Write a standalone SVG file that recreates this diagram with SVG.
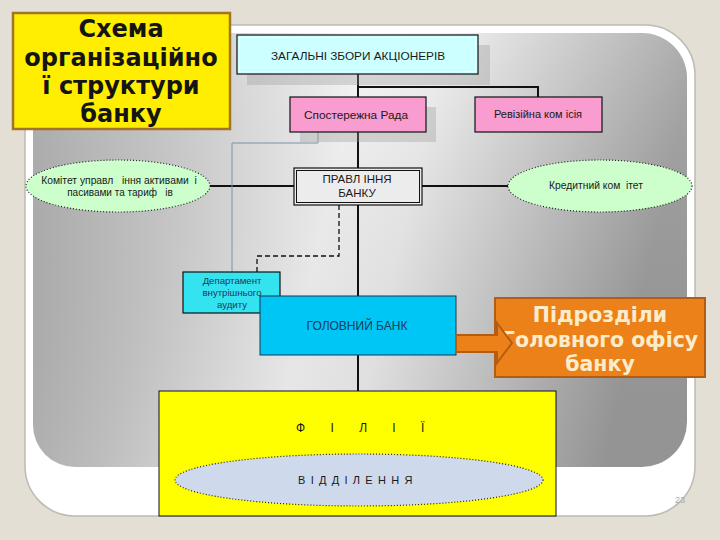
<svg xmlns="http://www.w3.org/2000/svg" width="720" height="540" viewBox="0 0 720 540">
<defs>
<linearGradient id="panelGrad" x1="0" y1="0" x2="1" y2="0.15">
<stop offset="0" stop-color="#a4a4a4"/>
<stop offset="0.25" stop-color="#c8c8c8"/>
<stop offset="0.5" stop-color="#f4f4f4"/>
<stop offset="0.62" stop-color="#ececec"/>
<stop offset="1" stop-color="#9c9c9c"/>
</linearGradient>
<linearGradient id="panelShade" x1="0" y1="0" x2="0" y2="1">
<stop offset="0" stop-color="#ffffff" stop-opacity="0.15"/>
<stop offset="1" stop-color="#000000" stop-opacity="0.05"/>
</linearGradient>
<style>
.lbl{font-family:"Liberation Sans",Arial,sans-serif;fill:#1a1a1a;text-anchor:middle;white-space:pre}
.dk{fill:#1c3a5a}
.big{font-family:"DejaVu Sans","Noto Sans",sans-serif;font-weight:bold;text-anchor:middle}
.box{stroke:#111;stroke-width:1.2}
.shadow{fill:#9a9a9a;fill-opacity:0.35}
.ell{stroke:#222;stroke-width:1.2;stroke-dasharray:1 2}
.main{stroke:#111;stroke-width:2;fill:none}
</style>
</defs>
<rect width="720" height="540" fill="#e4dfd5"/>
<path d="M25 25 H645 A50 50 0 0 1 695 75 V466 A50 50 0 0 1 645 516 H75 A50 50 0 0 1 25 466 Z" fill="#ffffff" stroke="#bdbab3" stroke-width="1.5"/>
<path d="M33 33 H642 A45 45 0 0 1 687 78 V422 A45 45 0 0 1 642 467 H75 A42 42 0 0 1 33 425 Z" fill="url(#panelGrad)"/>
<path d="M33 33 H642 A45 45 0 0 1 687 78 V422 A45 45 0 0 1 642 467 H75 A42 42 0 0 1 33 425 Z" fill="url(#panelShade)"/>

<g id="connectors">
<path class="main" d="M358 74 V391"/>
<path class="main" d="M358 87 H538 V97" stroke-width="1.5"/>
<path class="main" d="M210 186 H294 M422 186 H508" stroke-width="1.5"/>
<path d="M318 132 V143 H232 V272" fill="none" stroke="#7f92aa" stroke-width="1"/>
<path d="M339 205 V256 H257 V272" fill="none" stroke="#111" stroke-width="1.3" stroke-dasharray="5 3"/>
</g>

<g id="zagalni">
<rect class="shadow" x="247" y="45" width="243" height="40"/>
<rect class="box" x="237" y="35" width="241" height="39" fill="#ccffff"/>
<rect x="239.5" y="37.5" width="236" height="34" fill="none" stroke="#fff" stroke-width="1"/>
<text class="lbl" x="358" y="60" font-size="11.8">ЗАГАЛЬНІ ЗБОРИ АКЦІОНЕРІВ</text>
</g>

<g id="sposterezhna">
<rect class="shadow" x="300" y="107" width="136" height="35"/>
<rect class="box" x="290" y="97" width="136" height="35" fill="#f99ccf"/>
<text class="lbl" x="356" y="119" font-size="11.8">Спостережна Рада</text>
</g>

<g id="reviziyna">
<rect class="box" x="475" y="97" width="127" height="35" fill="#f99ccf"/>
<text class="lbl" x="538" y="118" font-size="11">Ревізійна ком ісія</text>
</g>

<g id="pravlinnya">
<rect class="box" x="294" y="168" width="128" height="37" fill="#ececec"/>
<rect x="296.5" y="170.5" width="123" height="32" fill="none" stroke="#111" stroke-width="1"/>
<text class="lbl" x="357" y="183" font-size="11.5">ПРАВЛ ІННЯ</text>
<text class="lbl" x="357" y="197" font-size="11.5">БАНКУ</text>
</g>

<g id="komitet">
<ellipse class="ell" cx="118" cy="186" rx="92" ry="26" fill="#ccffcc"/>
<text class="lbl" x="119" y="184" font-size="10.3">Комітет управл   іння активами  і</text>
<text class="lbl" x="120" y="196" font-size="10">пасивами та тариф   ів</text>
</g>

<g id="kredytnyi">
<ellipse class="ell" cx="600" cy="186" rx="92" ry="26" fill="#ccffcc"/>
<text class="lbl" x="596" y="189" font-size="10.3">Кредитний ком  ітет</text>
</g>

<g id="departament">
<rect class="box" x="183" y="272" width="97" height="41" fill="#33e3ef"/>
<text class="lbl dk" x="232" y="284" font-size="9.6">Департамент</text>
<text class="lbl dk" x="232" y="296" font-size="9.6">внутрішнього</text>
<text class="lbl dk" x="232" y="308" font-size="9.6">аудиту</text>
</g>

<g id="holovnyi">
<rect x="260" y="296" width="196" height="59" fill="#00c6f6" stroke="#1a3550" stroke-width="1"/>
<text class="lbl dk" x="357" y="330" font-size="12">ГОЛОВНИЙ БАНК</text>
</g>

<g id="filii">
<rect x="159" y="391" width="397" height="125" fill="#ffff00" stroke="#111" stroke-width="1"/>
<text class="lbl" x="296" y="432" font-size="12" letter-spacing="11" style="text-anchor:start">Ф І Л І Ї</text>
<ellipse class="ell" cx="359" cy="480" rx="184" ry="26" fill="#cfd9ec"/>
<text class="lbl" x="298" y="484" font-size="11" letter-spacing="5.3" style="text-anchor:start">ВІДДІЛЕННЯ</text>
</g>

<g id="title">
<rect x="13" y="13" width="217" height="116" fill="#ffee00" stroke="#a2742a" stroke-width="2.5"/>
<text class="big" x="121" y="37" font-size="24" fill="#141414">Схема</text>
<text class="big" x="121" y="66" font-size="24" fill="#141414">організаційно</text>
<text class="big" x="121" y="94" font-size="24" fill="#141414">ї структури</text>
<text class="big" x="121" y="122" font-size="24" fill="#141414">банку</text>
</g>

<g id="pidrozdily">
<rect x="495" y="298" width="210" height="79" fill="#ec8119" stroke="#b35d12" stroke-width="2"/>
<text class="big" x="600" y="322" font-size="20.5" fill="#fbeccb">Підрозділи</text>
<text class="big" x="600" y="347" font-size="20.5" fill="#fbeccb">Головного офісу</text>
<text class="big" x="600" y="371" font-size="20.5" fill="#fbeccb">банку</text>
<path d="M456 335 H497 V323 L512 343 L497 363 V352 H456 Z" fill="#ec8119" stroke="#b35d12" stroke-width="2"/>
</g>

<text x="680" y="503" font-family="Liberation Sans, sans-serif" font-size="9" fill="#a8a8a8" text-anchor="middle">23</text>
</svg>
